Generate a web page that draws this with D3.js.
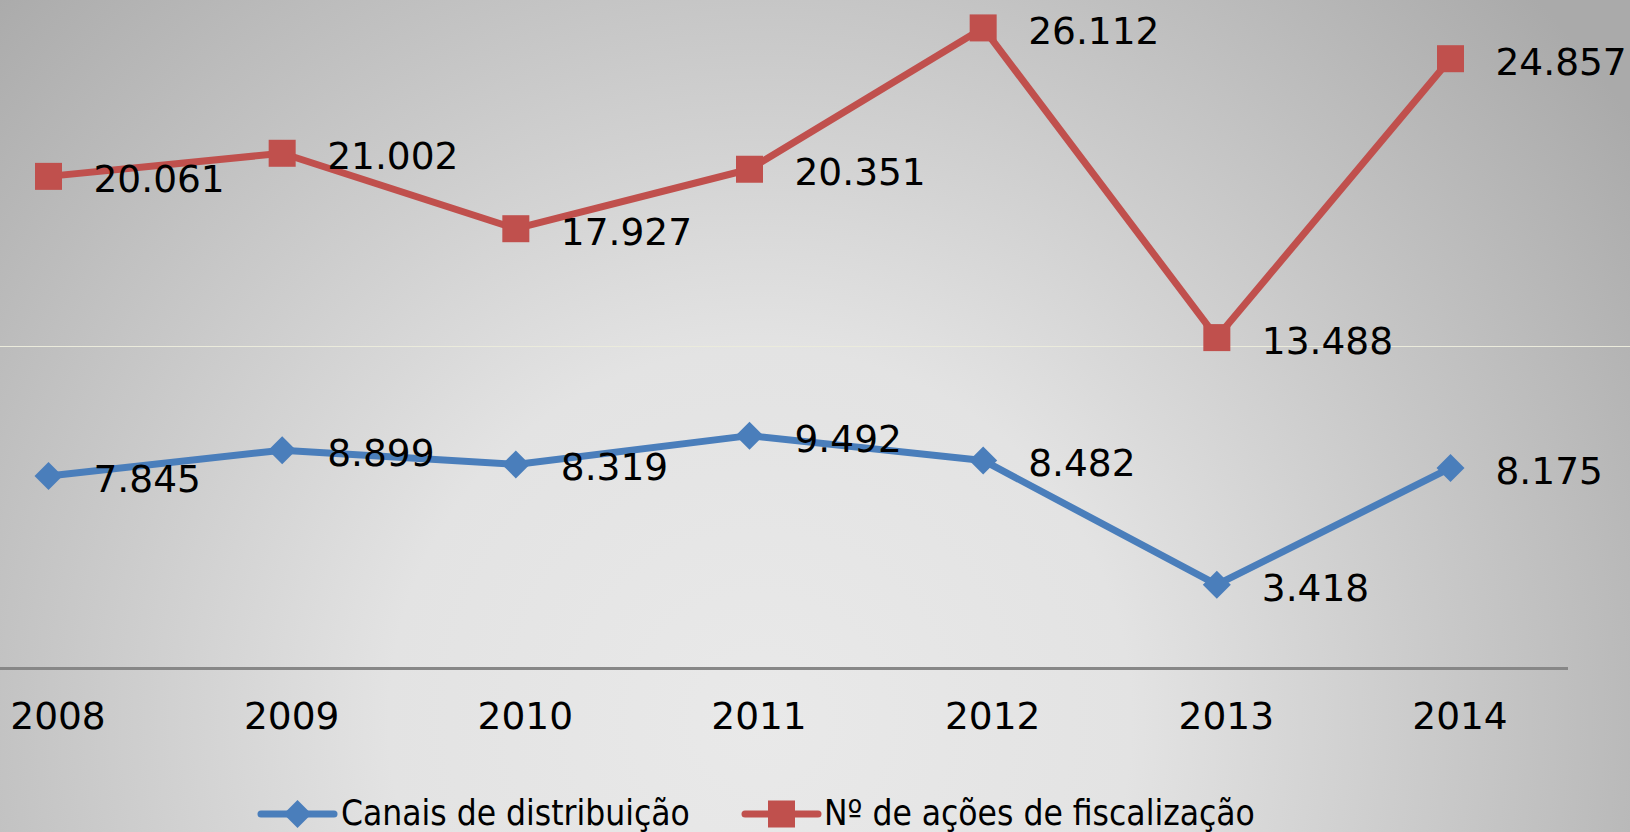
<!DOCTYPE html>
<html>
<head>
<meta charset="utf-8">
<script src="https://cdn.jsdelivr.net/npm/d3@7"></script>
<style>
  html, body { margin: 0; padding: 0; background: #d8d8d8; }
  svg { display: block; }
  .lbl { font-family: "DejaVu Sans", Verdana, sans-serif; font-size: 37.5px; fill: #000; }
  .leg { font-family: "DejaVu Sans Condensed", "DejaVu Sans", sans-serif; font-stretch: condensed; font-size: 35px; fill: #000; }
</style>
</head>
<body>
<div id="chart"></div>
<script>
// chart data
var years = ['2008', '2009', '2010', '2011', '2012', '2013', '2014'];
var canais = [7845, 8899, 8319, 9492, 8482, 3418, 8175];
var acoes = [20061, 21002, 17927, 20351, 26112, 13488, 24857];
var seriesNames = ['Canais de distribuição', 'Nº de ações de fiscalização'];
var gridValues = [13150];

var width = 1630, height = 832;

var svg = d3.select('#chart').append('svg')
  .attr('width', width)
  .attr('height', height);

// background: soft grey radial shading
var grad = svg.append('defs').append('radialGradient')
  .attr('id', 'bg')
  .attr('gradientUnits', 'userSpaceOnUse')
  .attr('cx', 760).attr('cy', 720).attr('r', 1060);
grad.append('stop').attr('offset', 0).attr('stop-color', '#e9e9e9');
grad.append('stop').attr('offset', 0.35).attr('stop-color', '#e3e3e3');
grad.append('stop').attr('offset', 1).attr('stop-color', '#aaaaaa');

svg.append('rect')
  .attr('width', width).attr('height', height)
  .attr('fill', 'url(#bg)');

var x = d3.scalePoint().domain(years).range([48.5, 1450.5]);
var y = d3.scaleLinear().domain([0, 27250]).range([668.5, 0]);

// gridline
svg.selectAll('.grid').data(gridValues).enter().append('line')
  .attr('class', 'grid')
  .attr('x1', 0).attr('x2', width)
  .attr('y1', function (d) { return Math.round(y(d)) + 0.5; })
  .attr('y2', function (d) { return Math.round(y(d)) + 0.5; })
  .attr('stroke', '#ebebdc')
  .attr('stroke-width', 1.2);

// category axis
var xAxis = svg.append('g')
  .attr('transform', 'translate(0,' + y(0) + ')')
  .call(d3.axisBottom(x).tickSize(0).tickPadding(0));
xAxis.select('.domain').remove();
xAxis.append('line')
  .attr('x1', 0).attr('x2', 1568)
  .attr('y1', 0).attr('y2', 0)
  .attr('stroke', '#878787')
  .attr('stroke-width', 3);
xAxis.selectAll('.tick text')
  .attr('class', 'lbl')
  .attr('font-size', null).attr('font-family', null).attr('fill', null)
  .attr('dx', 9)
  .attr('dy', 0)
  .attr('y', 60);

var series = [
  { name: seriesNames[0], values: canais, color: '#4a7ebb', marker: 'diamond' },
  { name: seriesNames[1], values: acoes, color: '#c0504d', marker: 'square' }
];

var line = d3.line()
  .x(function (d, i) { return x(years[i]); })
  .y(function (d) { return y(d); });

function marker(sel, type, color) {
  if (type === 'square') {
    sel.append('rect')
      .attr('x', -13.5).attr('y', -13.5)
      .attr('width', 27).attr('height', 27)
      .attr('fill', color);
  } else {
    sel.append('path')
      .attr('d', 'M0,-14L14,0L0,14L-14,0Z')
      .attr('fill', color);
  }
}

var fmt = function (v) { return d3.format(',')(v).replace(/,/g, '.'); };

var groups = svg.selectAll('.series').data(series).enter().append('g')
  .attr('class', 'series');

groups.append('path')
  .attr('d', function (d) { return line(d.values); })
  .attr('fill', 'none')
  .attr('stroke', function (d) { return d.color; })
  .attr('stroke-width', 7)
  .attr('stroke-linejoin', 'round');

groups.each(function (s) {
  var g = d3.select(this);
  var pts = g.selectAll('.pt').data(s.values).enter().append('g')
    .attr('class', 'pt')
    .attr('transform', function (d, i) { return 'translate(' + x(years[i]) + ',' + y(d) + ')'; });
  marker(pts, s.marker, s.color);
  pts.append('text')
    .attr('class', 'lbl')
    .attr('x', 45)
    .attr('y', 16)
    .text(fmt);
});

// legend
var legendItems = [
  { x: 258, text: 341, color: '#4a7ebb', marker: 'diamond', name: seriesNames[0] },
  { x: 742, text: 824, color: '#c0504d', marker: 'square', name: seriesNames[1] }
];
var leg = svg.selectAll('.legend').data(legendItems).enter().append('g')
  .attr('class', 'legend');
leg.append('line')
  .attr('x1', function (d) { return d.x + 3; })
  .attr('x2', function (d) { return d.x + 76; })
  .attr('y1', 814).attr('y2', 814)
  .attr('stroke', function (d) { return d.color; })
  .attr('stroke-width', 7)
  .attr('stroke-linecap', 'round');
leg.each(function (d) {
  var m = d3.select(this).append('g')
    .attr('transform', 'translate(' + (d.x + 39.5) + ',814)');
  marker(m, d.marker, d.color);
});
leg.append('text')
  .attr('class', 'leg')
  .attr('x', function (d) { return d.text; })
  .attr('y', 825)
  .text(function (d) { return d.name; });
</script>
</body>
</html>
